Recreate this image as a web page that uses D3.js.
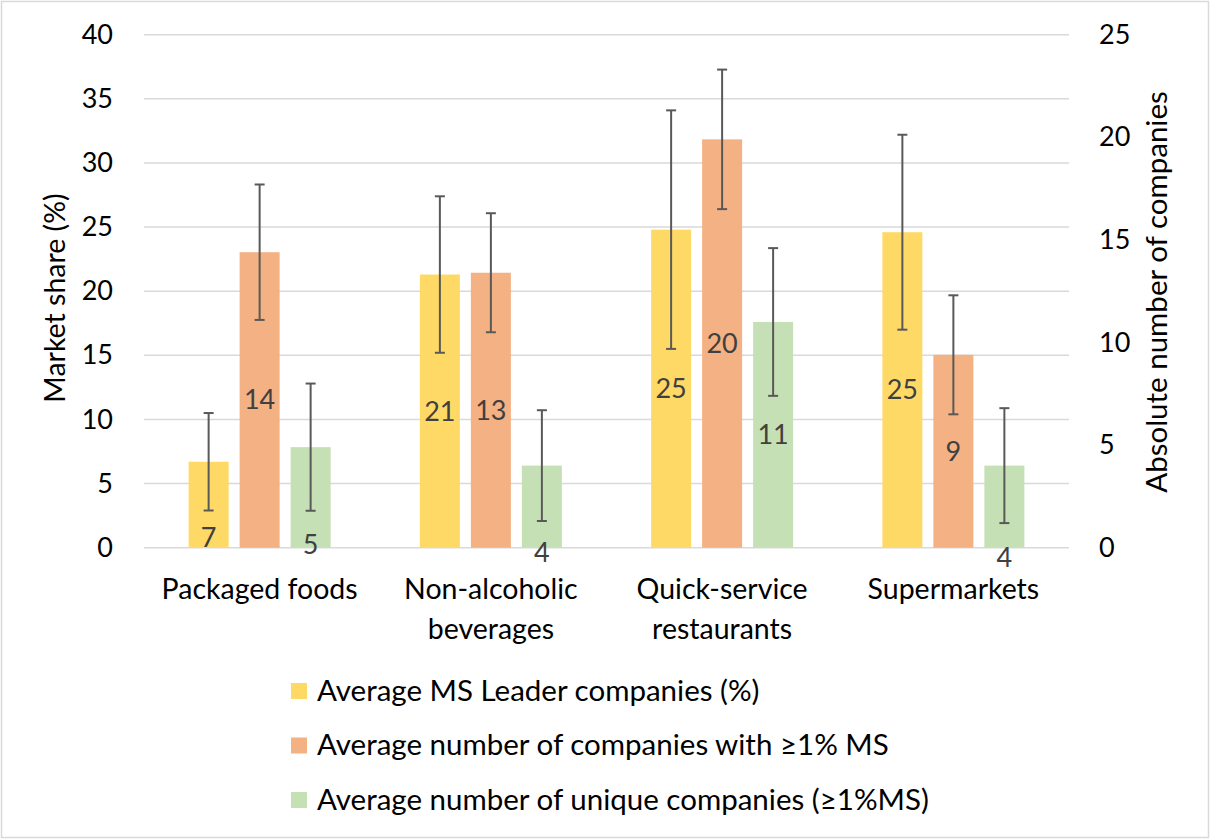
<!DOCTYPE html>
<html><head><meta charset="utf-8">
<script src="https://cdn.jsdelivr.net/npm/d3@7"></script>
<style>
html,body{margin:0;padding:0;background:#fff;}
svg{display:block;font-family:Lato,"Noto Sans",sans-serif;}
</style></head>
<body><svg id="c" width="1211" height="840"></svg>
<script>
// ---- data ----
const categories = [["Packaged foods"], ["Non-alcoholic", "beverages"], ["Quick-service", "restaurants"], ["Supermarkets"]];
const seriesNames = ["Average MS Leader companies (%)", "Average number of companies with \u22651% MS", "Average number of unique companies (\u22651%MS)"];
const leaderShare = [6.7, 21.3, 24.8, 24.6];
const leaderShareErr = [3.8, 6.1, 9.3, 7.6];
const companies1pct = [14.4, 13.4, 19.9, 9.4];
const companies1pctErr = [3.3, 2.9, 3.4, 2.9];
const uniqueCompanies = [4.9, 4.0, 11.0, 4.0];
const uniqueCompaniesErr = [3.1, 2.7, 3.6, 2.8];
const leftTicks = [0, 5, 10, 15, 20, 25, 30, 35, 40];
const rightTicks = [0, 5, 10, 15, 20, 25];
const leftTitle = "Market share (%)";
const rightTitle = "Absolute number of companies";

// ---- layout / style ----
const colors = ["#FFD966", "#F4B183", "#C5E0B4"];
const plot = {l: 144, r: 1069, t: 34.7, b: 547.7};
const svg = d3.select("#c");

svg.append("rect").attr("x", 1.5).attr("y", 1.5).attr("width", 1207).attr("height", 836)
  .attr("fill", "#fff").attr("stroke", "#d9d9d9").attr("stroke-width", 1.5);

const yL = d3.scaleLinear().domain([0, 40]).range([plot.b, plot.t]);
const yR = d3.scaleLinear().domain([0, 25]).range([plot.b, plot.t]);
const x0 = d3.scaleBand().domain(d3.range(categories.length)).range([plot.l, plot.r]).padding(0);
const groupW = 142;
const x1 = d3.scaleBand().domain([0, 1, 2]).range([(x0.bandwidth() - groupW) / 2, (x0.bandwidth() + groupW) / 2]).paddingInner(11 / 51);

// gridlines
svg.append("g").selectAll("line").data(leftTicks).join("line")
  .attr("x1", plot.l).attr("x2", plot.r)
  .attr("y1", d => yL(d)).attr("y2", d => yL(d))
  .attr("stroke", "#d9d9d9").attr("stroke-width", 1.5);

// axes
const axL = svg.append("g").attr("transform", `translate(${plot.l},0)`)
  .call(d3.axisLeft(yL).tickValues(leftTicks).tickSize(0).tickPadding(31));
const axR = svg.append("g").attr("transform", `translate(${plot.r},0)`)
  .call(d3.axisRight(yR).tickValues(rightTicks).tickSize(0).tickPadding(30));
[axL, axR].forEach(a => {
  a.select(".domain").remove();
  a.selectAll("text").attr("font-family", "Lato").attr("font-size", 27).attr("fill", "#000");
});

// series
const series = [
  {vals: leaderShare, errs: leaderShareErr, y: yL},
  {vals: companies1pct, errs: companies1pctErr, y: yR},
  {vals: uniqueCompanies, errs: uniqueCompaniesErr, y: yR}
];
// manual label nudges (px) for short bars, where labels were moved off-centre
const labelNudge = [[33, 0, 0, 0], [0, 0, 0, 0], [47, 46, 0, 51]];

const gBars = svg.append("g");
series.forEach((s, si) => {
  s.vals.forEach((v, ci) => {
    const x = x0(ci) + x1(si);
    const w = x1.bandwidth();
    gBars.append("rect").attr("x", x).attr("y", s.y(v)).attr("width", w).attr("height", s.y(0) - s.y(v))
      .attr("fill", colors[si]);
  });
});
// error bars
const gErr = svg.append("g").attr("stroke", "#595959").attr("stroke-width", 2);
series.forEach((s, si) => {
  s.vals.forEach((v, ci) => {
    const cx = x0(ci) + x1(si) + x1.bandwidth() / 2;
    const hi = s.y(v + s.errs[ci]), lo = s.y(v - s.errs[ci]);
    gErr.append("line").attr("x1", cx).attr("x2", cx).attr("y1", hi).attr("y2", lo);
    gErr.append("line").attr("x1", cx - 5).attr("x2", cx + 5).attr("y1", hi).attr("y2", hi);
    gErr.append("line").attr("x1", cx - 5).attr("x2", cx + 5).attr("y1", lo).attr("y2", lo);
  });
});
// data labels
const gLab = svg.append("g").attr("font-size", 27).attr("fill", "#404040").attr("text-anchor", "middle");
series.forEach((s, si) => {
  s.vals.forEach((v, ci) => {
    const cx = x0(ci) + x1(si) + x1.bandwidth() / 2;
    const cy = (s.y(v) + s.y(0)) / 2 + labelNudge[si][ci];
    gLab.append("text").attr("x", cx).attr("y", cy).attr("dy", "0.35em").text(Math.round(v));
  });
});

// category labels
const gCat = svg.append("g").attr("font-size", 28.5).attr("fill", "#000").attr("text-anchor", "middle");
categories.forEach((lines, ci) => {
  const t = gCat.append("text").attr("x", x0(ci) + x0.bandwidth() / 2).attr("y", 599);
  lines.forEach((ln, li) => t.append("tspan").attr("x", x0(ci) + x0.bandwidth() / 2).attr("dy", li ? 40 : 0).text(ln));
});

// axis titles
svg.append("text").attr("transform", `translate(65,298) rotate(-90)`).attr("text-anchor", "middle")
  .attr("font-size", 28.5).attr("fill", "#000").text(leftTitle);
svg.append("text").attr("transform", `translate(1167,292) rotate(-90)`).attr("text-anchor", "middle")
  .attr("font-size", 29.5).attr("fill", "#000").text(rightTitle);

// legend
const gLeg = svg.append("g");
seriesNames.forEach((n, i) => {
  const y = 683 + i * 54.5;
  gLeg.append("rect").attr("x", 291).attr("y", y).attr("width", 16).attr("height", 16).attr("fill", colors[i]);
  gLeg.append("text").attr("x", 317).attr("y", y + 17.5).attr("font-size", 29.5).attr("fill", "#000").text(n);
});
</script></body></html>
